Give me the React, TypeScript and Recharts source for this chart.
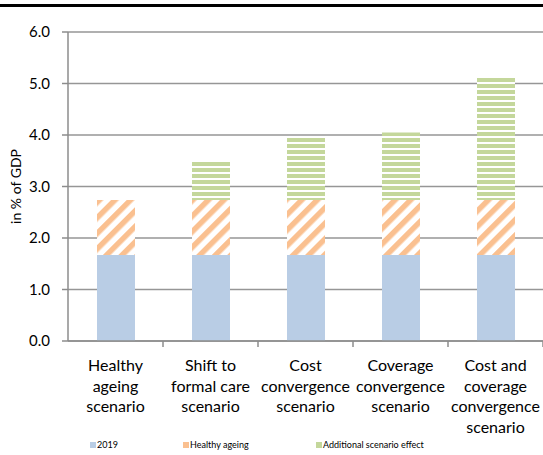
import { Bar, BarChart, CartesianGrid, Legend, XAxis, YAxis } from "recharts";

const categories = [
  "Healthy ageing scenario",
  "Shift to formal care scenario",
  "Cost convergence scenario",
  "Coverage convergence scenario",
  "Cost and coverage convergence scenario",
];
const categoryLines = [
  ["Healthy", "ageing", "scenario"],
  ["Shift to", "formal care", "scenario"],
  ["Cost", "convergence", "scenario"],
  ["Coverage", "convergence", "scenario"],
  ["Cost and", "coverage", "convergence", "scenario"],
];
const base2019 = [1.67, 1.67, 1.67, 1.67, 1.67];
const healthyAgeing = [1.07, 1.07, 1.07, 1.07, 1.07];
const additionalEffect = [0, 0.76, 1.22, 1.31, 2.4];
const yTicks = [0, 1, 2, 3, 4, 5, 6];

const data = categories.map((c, i) => ({
  name: c,
  base: base2019[i],
  healthy: healthyAgeing[i],
  extra: additionalEffect[i],
}));

const FONT = "Lato, 'Liberation Sans', sans-serif";
const AXIS = "#8c8c8c";

function CategoryTick(props: any) {
  const { x, y, payload, index } = props;
  const half = payload?.offset ?? 47.5;
  const lines = categoryLines[index] ?? [String(payload.value)];
  return (
    <g>
      <line x1={x + half} x2={x + half} y1={y - 8} y2={y - 2} stroke={AXIS} strokeWidth={1.5} />
      <text x={x} y={y + 22} textAnchor="middle" fontSize={16} fill="#000" fontFamily={FONT}>
        {lines.map((l, i) => (
          <tspan key={i} x={x} dy={i === 0 ? 0 : 20.5}>
            {l}
          </tspan>
        ))}
      </text>
    </g>
  );
}

const legendItems = [
  { label: "2019", color: "#b9cde5", left: 90 },
  { label: "Healthy ageing", color: "#fac090", left: 183 },
  { label: "Additional scenario effect", color: "#c4d79b", left: 316 },
];

function LegendBox() {
  return (
    <div style={{ position: "relative", height: 20, fontFamily: FONT, fontSize: 9 }}>
      {legendItems.map((it) => (
        <div
          key={it.label}
          style={{ position: "absolute", left: it.left, top: 4, display: "flex", alignItems: "center" }}
        >
          <span style={{ width: 6, height: 6, background: it.color, marginRight: 1 }} />
          <span>{it.label}</span>
        </div>
      ))}
    </div>
  );
}

export default function App() {
  return (
    <div style={{ position: "absolute", left: 0, top: 0, width: 543, height: 455, background: "#fff" }}>
      <div style={{ position: "absolute", left: 0, top: 4, width: 543, height: 3, background: "#000" }} />
      <BarChart
        width={543}
        height={455}
        data={data}
        margin={{ top: 32, right: 0, bottom: 0, left: 0 }}
        barSize={38}
      >
        <defs>
          <pattern
            id="diag"
            width={11}
            height={11}
            patternUnits="userSpaceOnUse"
            patternTransform="rotate(45)"
          >
            <rect width={11} height={11} fill="#fff" />
            <rect width={5.5} height={11} fill="#fac090" />
          </pattern>
          <pattern id="horiz" width={6} height={6} patternUnits="userSpaceOnUse">
            <rect width={6} height={6} fill="#fff" />
            <rect y={0} width={6} height={4} fill="#c4d79b" />
          </pattern>
        </defs>
        <CartesianGrid vertical={false} stroke="#969696" strokeWidth={1.5} />
        <XAxis
          dataKey="name"
          height={94}
          interval={0}
          tickLine={false}
          axisLine={{ stroke: AXIS, strokeWidth: 1.5 }}
          tick={<CategoryTick />}
        />
        <YAxis
          width={68}
          domain={[0, 6]}
          ticks={yTicks}
          tickFormatter={(v: number) => v.toFixed(1)}
          tick={{ fontSize: 15, fill: "#000", fontFamily: FONT, dx: -10 }}
          tickSize={6}
          tickLine={{ stroke: AXIS, strokeWidth: 1.5 }}
          axisLine={{ stroke: AXIS, strokeWidth: 1.5 }}
          label={{
            value: "in % of GDP",
            angle: -90,
            position: "insideLeft",
            offset: 16,
            fontSize: 14,
            fill: "#000",
            fontFamily: FONT,
            style: { textAnchor: "middle" },
          }}
        />
        <Legend verticalAlign="bottom" height={20} content={<LegendBox />} />
        <Bar dataKey="base" stackId="a" fill="#b9cde5" isAnimationActive={false} />
        <Bar dataKey="healthy" stackId="a" fill="url(#diag)" isAnimationActive={false} />
        <Bar dataKey="extra" stackId="a" fill="url(#horiz)" isAnimationActive={false} />
      </BarChart>
    </div>
  );
}
